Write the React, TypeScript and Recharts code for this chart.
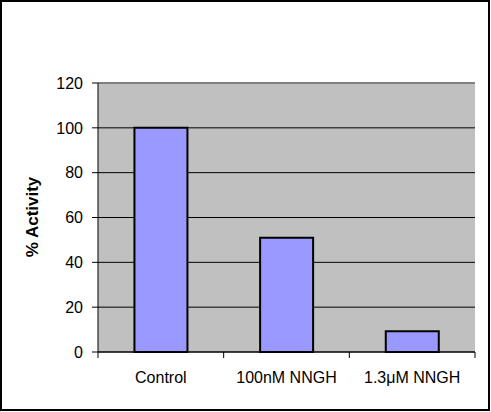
import { Bar, BarChart, CartesianGrid, ReferenceLine, XAxis, YAxis } from "recharts";

const categories = ["Control", "100nM NNGH", "1.3μM NNGH"];
const activity = [100, 51, 9.3];
const yTicks = [0, 20, 40, 60, 80, 100, 120];

const data = categories.map((name, i) => ({ name, activity: activity[i] }));

const FONT = '"Liberation Sans", Arial, sans-serif';
const PLOT_LEFT = 98;
const PLOT_RIGHT = 475;
const BAND = (PLOT_RIGHT - PLOT_LEFT) / categories.length;

// category label plus tick marks on the band edges (Excel style)
const CategoryTick = (props: any) => {
	const { x, y, payload, index } = props;
	const axisY = y - 8;
	return (
		<g>
			<line x1={x - BAND / 2} y1={axisY} x2={x - BAND / 2} y2={axisY + 6} stroke="#000" />
			{index === categories.length - 1 && (
				<line x1={x + BAND / 2} y1={axisY} x2={x + BAND / 2} y2={axisY + 6} stroke="#000" />
			)}
			<text x={x} y={axisY + 31} textAnchor="middle" fontSize={16} fontFamily={FONT} fill="#000">
				{payload.value}
			</text>
		</g>
	);
};

const YLabel = () => (
	<text
		x={38}
		y={217}
		transform="rotate(-90 38 217)"
		textAnchor="middle"
		fontSize={17}
		fontWeight="bold"
		fontFamily={FONT}
		fill="#000"
	>
		% Activity
	</text>
);

export default function App() {
	return (
		<div style={{ position: "absolute", left: 0, top: 0, width: 491, height: 412, background: "#fff" }}>
			<BarChart
				width={491}
				height={412}
				data={data}
				margin={{ top: 83, right: 491 - PLOT_RIGHT, bottom: 0, left: 0 }}
				barCategoryGap="29%"
			>
				<CartesianGrid vertical={false} stroke="#000" fill="#C0C0C0" fillOpacity={1} />
				<XAxis
					dataKey="name"
					height={60}
					axisLine={{ stroke: "#000" }}
					tickLine={false}
					tickSize={6}
					tickMargin={2}
					interval={0}
					tick={<CategoryTick />}
				/>
				<YAxis
					width={PLOT_LEFT}
					domain={[0, 120]}
					ticks={yTicks}
					interval={0}
					axisLine={{ stroke: "#000" }}
					tickLine={{ stroke: "#000" }}
					tickSize={6}
					tickMargin={9}
					tick={{ fontSize: 16, fontFamily: FONT, fill: "#000" }}
					label={{ content: <YLabel /> }}
				/>
				<YAxis
					yAxisId="right"
					orientation="right"
					width={0}
					tick={false}
					tickLine={false}
					axisLine={{ stroke: "#808080", strokeWidth: 2 }}
				/>
				<ReferenceLine y={120} stroke="#808080" strokeWidth={2} />
				<Bar
					dataKey="activity"
					fill="#9999FF"
					stroke="#000"
					strokeWidth={2}
					isAnimationActive={false}
				/>
			</BarChart>
			<div
				style={{
					position: "absolute",
					left: 0,
					top: 0,
					width: 490,
					height: 411,
					boxSizing: "border-box",
					border: "2px solid #000",
					pointerEvents: "none",
				}}
			/>
		</div>
	);
}
